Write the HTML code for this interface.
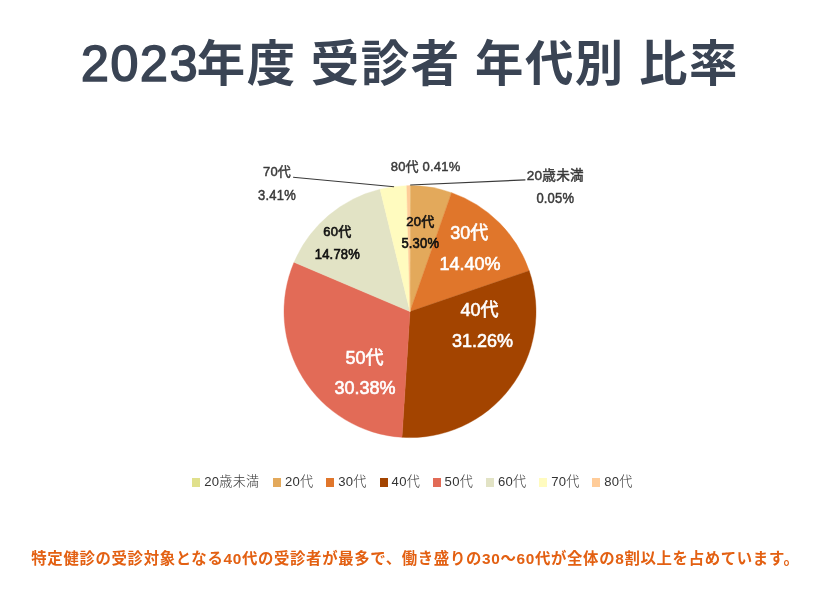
<!DOCTYPE html>
<html lang="ja">
<head>
<meta charset="utf-8">
<title>2023年度 受診者 年代別 比率</title>
<style>
html,body{margin:0;padding:0;background:#fff;}
body{width:820px;height:615px;position:relative;overflow:hidden;font-family:"Liberation Sans","Noto Sans CJK JP",sans-serif;}
h1{position:absolute;left:0;top:27px;width:820px;margin:0;text-align:center;font-size:48.4px;line-height:74px;font-weight:700;color:#3A4454;white-space:nowrap;letter-spacing:1.6px;word-spacing:-1px;}
h1 b{font-weight:400;font-size:50px;letter-spacing:1.7px;margin-right:-2.3px;-webkit-text-stroke:1.7px #3A4454;}
svg{position:absolute;left:0;top:0;}
svg text{font-family:"Liberation Sans","Noto Sans CJK JP",sans-serif;text-anchor:middle;}
.o{font-size:13px;letter-spacing:0.2px;font-weight:400;fill:#3a3a3a;stroke:#3a3a3a;stroke-width:0.45px;}
.k{font-size:13px;letter-spacing:0.2px;font-weight:400;fill:#111;stroke:#111;stroke-width:0.6px;}
.w{font-size:18px;font-weight:400;fill:#fff;stroke:#fff;stroke-width:0.6px;}
.li{position:absolute;top:471.2px;height:20px;line-height:20px;font-size:13.1px;letter-spacing:0.25px;font-weight:300;color:#333;white-space:nowrap;}
.li i{display:inline-block;width:8px;height:8.4px;vertical-align:middle;margin-right:4px;position:relative;top:0.6px;}
.li span{vertical-align:middle;}
p.cap{position:absolute;left:31.3px;top:546.4px;margin:0;font-size:15.4px;line-height:26px;font-weight:700;color:#E36012;white-space:nowrap;letter-spacing:0.66px;}
</style>
</head>
<body>
<h1><b>2023</b>年度 受診者 年代別 比率</h1>
<svg width="820" height="615" viewBox="0 0 820 615">
<g>
<path d="M410.00 311.60L410.00 185.60A126.0 126.0 0 0 1 410.40 185.60Z" fill="#E0E08C" stroke="#E0E08C" stroke-width="0.4"/>
<path d="M410.00 311.60L410.40 185.60A126.0 126.0 0 0 1 451.57 192.65Z" fill="#E3A95B" stroke="#E3A95B" stroke-width="0.4"/>
<path d="M410.00 311.60L451.57 192.65A126.0 126.0 0 0 1 529.21 270.80Z" fill="#E0762B" stroke="#E0762B" stroke-width="0.4"/>
<path d="M410.00 311.60L529.21 270.80A126.0 126.0 0 0 1 401.97 437.34Z" fill="#A34400" stroke="#A34400" stroke-width="0.4"/>
<path d="M410.00 311.60L401.97 437.34A126.0 126.0 0 0 1 294.05 262.30Z" fill="#E26B57" stroke="#E26B57" stroke-width="0.4"/>
<path d="M410.00 311.60L294.05 262.30A126.0 126.0 0 0 1 380.04 189.21Z" fill="#E2E3C5" stroke="#E2E3C5" stroke-width="0.4"/>
<path d="M410.00 311.60L380.04 189.21A126.0 126.0 0 0 1 406.75 185.64Z" fill="#FFFBBF" stroke="#FFFBBF" stroke-width="0.4"/>
<path d="M410.00 311.60L406.75 185.64A126.0 126.0 0 0 1 410.00 185.60Z" fill="#FFCC99" stroke="#FFCC99" stroke-width="0.4"/>
</g>
<path d="M293.1 177.2L394.1 186.8" stroke="#3a3a3a" stroke-width="1.15" fill="none"/>
<path d="M410.2 185L525.4 179.9" stroke="#3a3a3a" stroke-width="1.15" fill="none"/>
<text class="o" x="277" y="176.2">70代</text>
<text class="o" transform="translate(277 199.5) scale(1 1.08)">3.41%</text>
<text class="o" x="425.6" y="171">80代 0.41%</text>
<text class="o" x="555.3" y="180.2"><tspan font-size="13.6">20歳未満</tspan></text>
<text class="o" transform="translate(555.3 202.8) scale(1 1.08)">0.05%</text>
<text class="k" x="337.4" y="236.3">60代</text>
<text class="k" transform="translate(337.4 259.1) scale(1 1.08)">14.78%</text>
<text class="k" x="420.3" y="226.4">20代</text>
<text class="k" transform="translate(420.3 248.4) scale(1 1.08)">5.30%</text>
<text class="w" x="469.3" y="239.4">30代</text>
<text class="w" transform="translate(470 270) scale(1 1.03)">14.40%</text>
<text class="w" x="479.5" y="315.6">40代</text>
<text class="w" transform="translate(482.4 346.7) scale(1 1.03)">31.26%</text>
<text class="w" x="364.4" y="363.9">50代</text>
<text class="w" transform="translate(365 394.3) scale(1 1.03)">30.38%</text>
</svg>
<div class="li" style="left:192.3px"><i style="background:#E0E08C"></i><span>20歳未満</span></div>
<div class="li" style="left:273px"><i style="background:#E3A95B"></i><span>20代</span></div>
<div class="li" style="left:326.3px"><i style="background:#E0762B"></i><span>30代</span></div>
<div class="li" style="left:379.6px"><i style="background:#A34400"></i><span>40代</span></div>
<div class="li" style="left:432.6px"><i style="background:#E26B57"></i><span>50代</span></div>
<div class="li" style="left:486px"><i style="background:#E2E3C5"></i><span>60代</span></div>
<div class="li" style="left:539.2px"><i style="background:#FFFBBF"></i><span>70代</span></div>
<div class="li" style="left:592.3px"><i style="background:#FFCC99"></i><span>80代</span></div>
<p class="cap">特定健診の受診対象となる40代の受診者が最多で、働き盛りの30～60代が全体の8割以上を占めています。</p>
</body>
</html>
